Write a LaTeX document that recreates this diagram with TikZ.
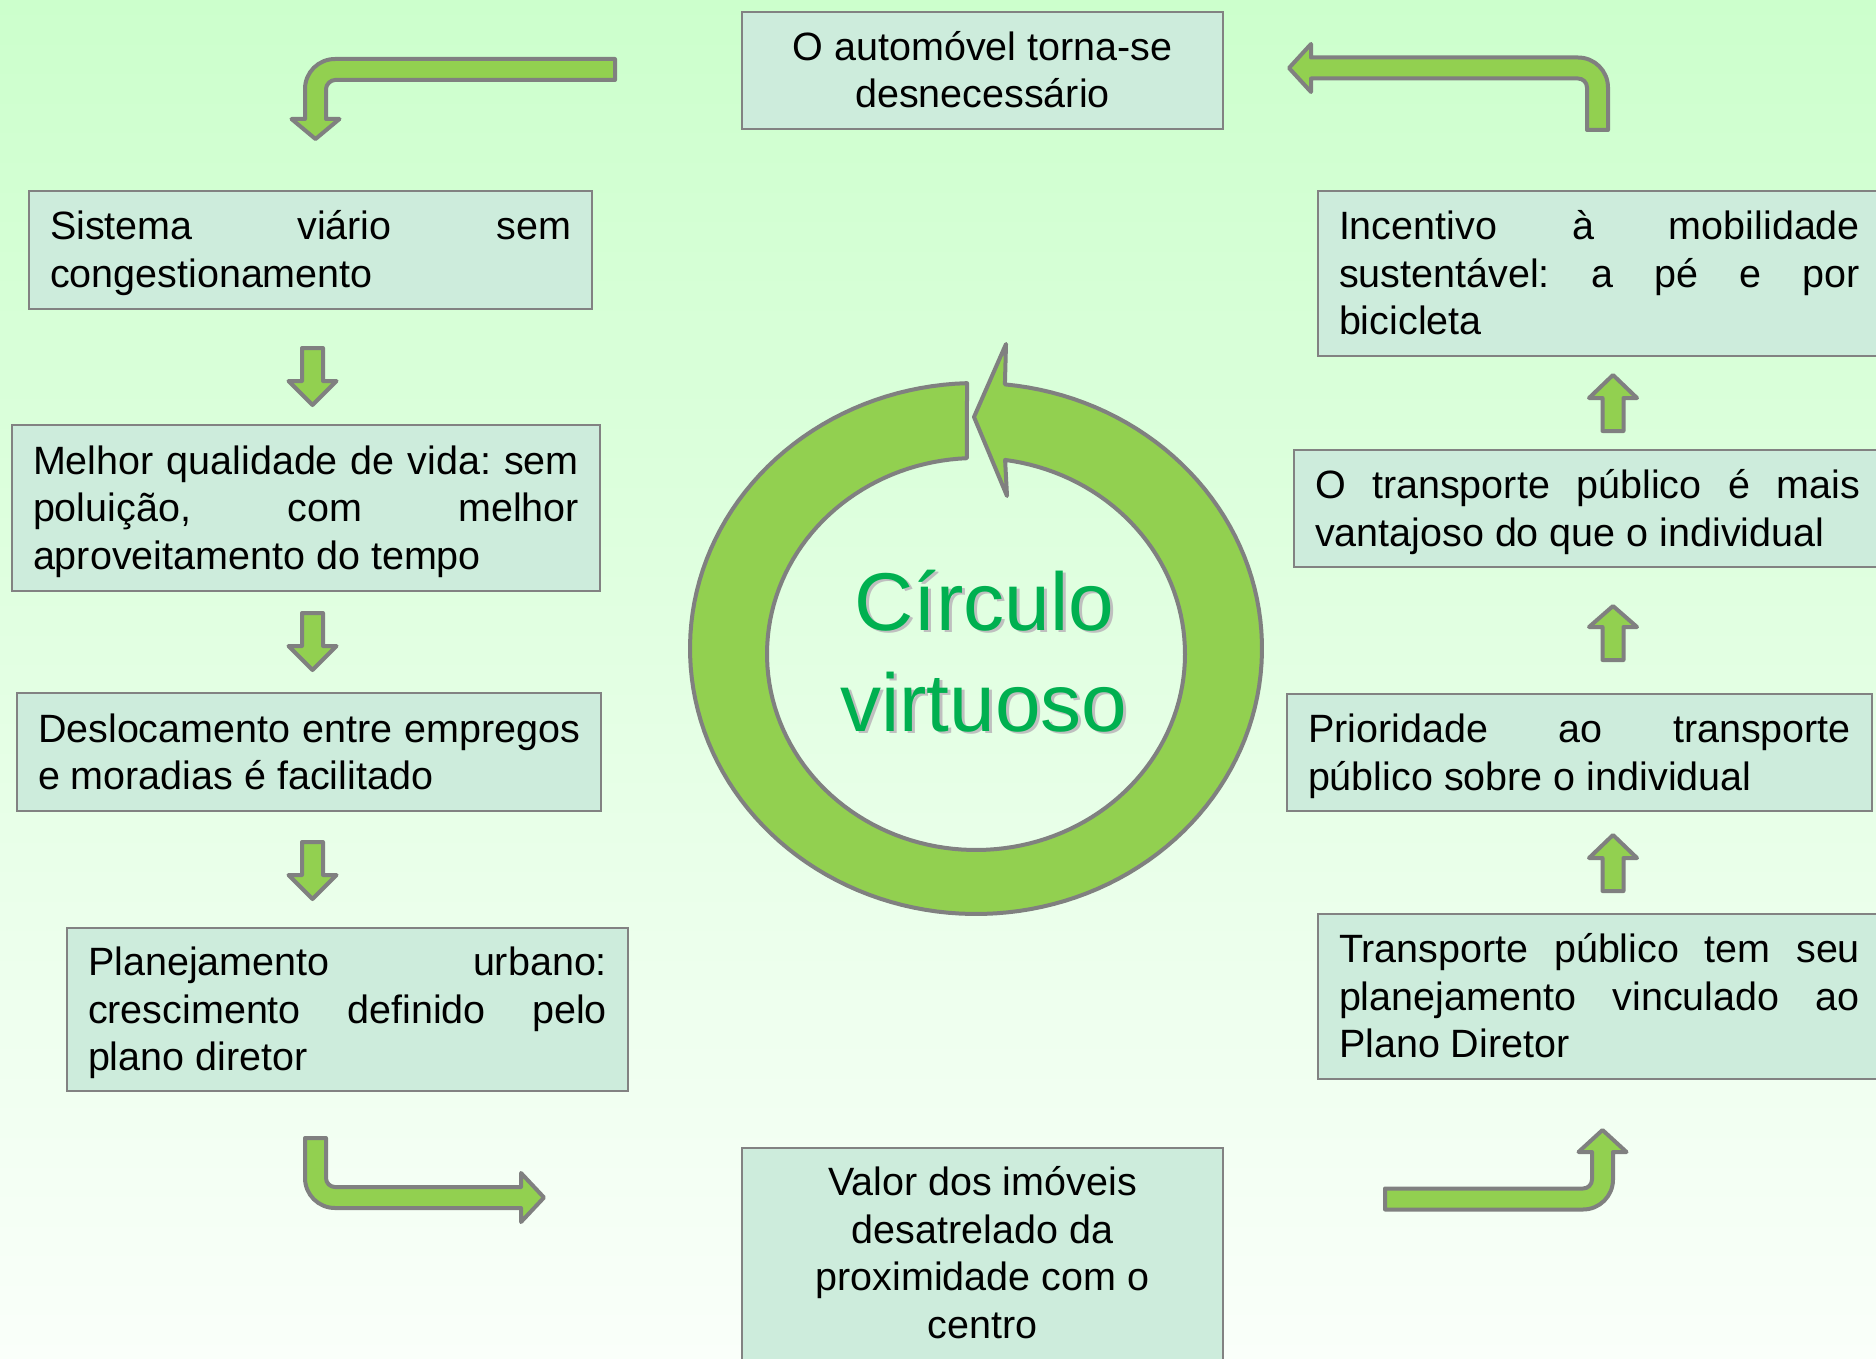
\documentclass[tikz,border=0pt]{standalone}
\usepackage{fontspec}
\setmainfont{Liberation Sans}

\definecolor{bgtop}{RGB}{204,255,204}
\definecolor{bgbot}{RGB}{250,255,250}
\definecolor{boxfill}{RGB}{205,236,220}
\definecolor{boxline}{RGB}{130,130,130}
\definecolor{arrowfill}{RGB}{146,208,80}
\definecolor{arrowline}{RGB}{128,128,128}
\definecolor{titlegreen}{RGB}{0,176,80}

\newdimen\jlwidth
\newcommand{\lnstrut}{\rule[-10pt]{0pt}{47.5pt}}
\newcommand{\jline}[1]{\leavevmode\hbox to \jlwidth{#1}}

\tikzset{
  jwidth/.code={\global\jlwidth=#1pt\relax},
  box/.style={draw=boxline, line width=2.5pt, fill=boxfill, inner xsep=21pt, inner ysep=0pt,
    text width=#1pt, jwidth=#1, align=left, font=\fontsize{39.5}{47.5}\selectfont,
    execute at begin node={\noindent\spaceskip=0pt\xspaceskip=0pt\frenchspacing\lnstrut},
    execute at end node={\lnstrut}},
  cbox/.style={box=#1, align=center,
    execute at begin node={\noindent\spaceskip=.278em\relax\frenchspacing\lnstrut}},
  blk/.style={draw=arrowline, fill=arrowfill, line width=4pt, line join=round},
  titulo/.style={font=\fontsize{82}{101}\selectfont, align=center}
}

\begin{document}
\begin{tikzpicture}[x=1pt, y=-1pt]
  \useasboundingbox (0,0) rectangle (1876,1359);
  \clip (0,0) rectangle (1876,1359);
  \shade[top color=bgtop, bottom color=bgbot] (0,0) rectangle (1876,1359);

  % caixas
  \node[cbox=439, minimum height=117pt] (carro) at (982.5,70.5) {O automóvel torna-se\\desnecessário};
  \node[box=521, minimum height=118pt] (viario) at (310.5,250) {\jline{Sistema viário sem}\\congestionamento};
  \node[box=546, minimum height=166pt] (vida) at (306,508) {\jline{Melhor qualidade de vida: sem}\\\jline{poluição, com melhor}\\aproveitamento do tempo};
  \node[box=542, minimum height=118pt] (desloc) at (309,752) {\jline{Deslocamento entre empregos}\\e moradias é facilitado};
  \node[box=519, minimum height=163pt] (plano) at (347.5,1009.5) {\jline{Planejamento urbano:}\\\jline{crescimento definido pelo}\\plano diretor};
  \node[cbox=439, minimum height=222pt] (valor) at (982.5,1259) {Valor dos imóveis\\desatrelado da\\proximidade com o\\centro\rule[-22pt]{0pt}{1pt}};
  \node[box=521, minimum height=165pt] (vinculo) at (1599.5,996.5) {\jline{Transporte público tem seu}\\\jline{planejamento vinculado ao}\\Plano Diretor};
  \node[box=543, minimum height=117pt] (priorid) at (1579.5,752.5) {\jline{Prioridade ao transporte}\\público sobre o individual};
  \node[box=545, minimum height=117pt] (vantagem) at (1587.5,508.5) {\jline{O transporte público é mais}\\vantajoso do que o individual};
  \node[box=521, minimum height=165pt] (incent) at (1599.5,273.5) {\jline{Incentivo à mobilidade}\\\jline{sustentável: a pé e por}\\bicicleta};

  % setas retas
  \foreach \x/\t/\b/\p in {312.5/348/381/405, 312.5/613/646/670, 312.5/842/875/899,
                           1613/891/858/835, 1613/660/627/606, 1613/431/398/375}
    \draw[blk] (\x-10.5,\t) -- (\x-10.5,\b) -- (\x-24,\b) -- (\x,\p) -- (\x+24,\b) -- (\x+10.5,\b) -- (\x+10.5,\t) -- cycle;

  % setas dobradas
  \draw[blk] (615,59) -- (335,59) .. controls (318.4,59) and (305,72.4) .. (305,89) -- (305,119) -- (291.5,119) -- (315.5,139) -- (339.5,119) -- (326,119) -- (326,89) .. controls (326,84) and (331,80) .. (335,80) -- (615,80) -- cycle;
  \draw[blk] (1289,68) -- (1311,44) -- (1311,57.5) -- (1578,57.5) .. controls (1594.6,57.5) and (1608,70.9) .. (1608,87.5) -- (1608,130) -- (1587,130) -- (1587,87.5) .. controls (1587,82.5) and (1583,78.5) .. (1578,78.5) -- (1311,78.5) -- (1311,92) -- cycle;
  \draw[blk] (305,1138) -- (305,1178) .. controls (305,1194.6) and (318.4,1208) .. (335,1208) -- (521,1208) -- (521,1222) -- (544,1197.5) -- (521,1173) -- (521,1187) -- (335,1187) .. controls (330,1187) and (326,1183) .. (326,1178) -- (326,1138) -- cycle;
  \draw[blk] (1385,1188.5) -- (1583,1188.5) .. controls (1588,1188.5) and (1592,1184.5) .. (1592,1179.5) -- (1592,1152) -- (1578.5,1152) -- (1602.5,1130) -- (1626.5,1152) -- (1613,1152) -- (1613,1179.5) .. controls (1613,1196.1) and (1599.6,1209.5) .. (1583,1209.5) -- (1385,1209.5) -- cycle;

  % anel
  \draw[blk] plot[domain=-84.2:268.2, samples=150] ({976+286*cos(\x)},{648.5+265.5*sin(\x)})
    -- plot[domain=267.5:-82, samples=150] ({976+209*cos(\x)},{654+196*sin(\x)})
    -- (1007,496) -- (974,417) -- (1006,344) -- cycle;
  \node[titulo, text=black!25] (circsombra) at (987,683) {\rule{0pt}{80pt}Círculo\\virtuoso\rule[-80pt]{0pt}{80pt}};
  \node[titulo, text=titlegreen] (circulo) at (984,680.5) {\rule{0pt}{80pt}Círculo\\virtuoso\rule[-80pt]{0pt}{80pt}};
\end{tikzpicture}
\end{document}
